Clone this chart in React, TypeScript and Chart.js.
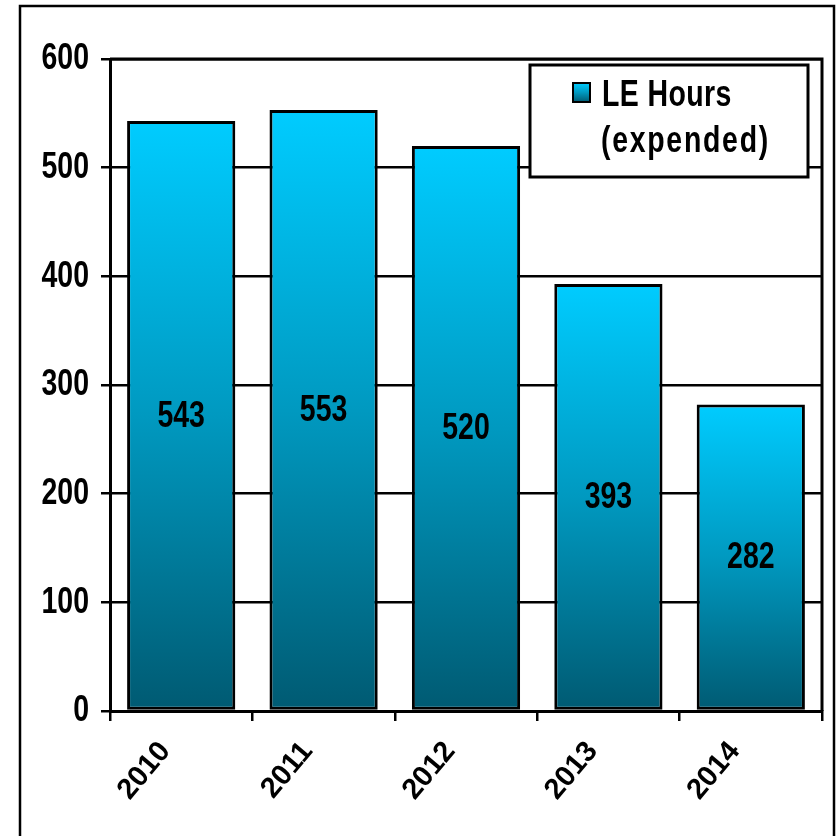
import React, { useEffect, useRef } from 'react';
import { Chart, registerables } from 'chart.js';

Chart.register(...registerables);

const categories = ['2010', '2011', '2012', '2013', '2014'];
const leHours = [543, 553, 520, 393, 282];
const seriesLabel = ['LE Hours', '(expended)'];
const yTicks = [0, 100, 200, 300, 400, 500, 600];

const REG = '"Liberation Sans", Arial, sans-serif';
const BIG_FONT = `bold 37px ${REG}`;
const SQUEEZE = 0.77;

function makeGradient(ctx: CanvasRenderingContext2D, top: number, bottom: number) {
  const g = ctx.createLinearGradient(0, top, 0, bottom);
  g.addColorStop(0, '#00CCFF');
  g.addColorStop(0.5, '#0099C0');
  g.addColorStop(1, '#005A72');
  return g;
}

function narrowText(
  ctx: CanvasRenderingContext2D,
  text: string,
  x: number,
  y: number,
  align: CanvasTextAlign,
  baseline: CanvasTextBaseline,
  spacing = 0
) {
  ctx.save();
  ctx.translate(x, y);
  ctx.scale(SQUEEZE, 1);
  ctx.font = BIG_FONT;
  ctx.fillStyle = '#000';
  ctx.textAlign = align;
  ctx.textBaseline = baseline;
  if (spacing) (ctx as any).letterSpacing = `${spacing}px`;
  ctx.fillText(text, 0, 0);
  ctx.restore();
}

const framePlugin = {
  id: 'frame',
  beforeDraw(chart: any) {
    const { ctx, width, height } = chart;
    ctx.save();
    ctx.fillStyle = '#fff';
    ctx.fillRect(0, 0, width, height);
    ctx.strokeStyle = '#000';
    ctx.lineWidth = 2.5;
    ctx.strokeRect(20, 6, 814, height + 20);
    ctx.restore();
  },
  afterDatasetsDraw(chart: any) {
    const { ctx, chartArea } = chart;
    ctx.save();
    // plot area frame (top + right)
    ctx.strokeStyle = '#000';
    ctx.lineWidth = 3;
    ctx.beginPath();
    ctx.moveTo(chartArea.left, chartArea.top);
    ctx.lineTo(chartArea.right, chartArea.top);
    ctx.lineTo(chartArea.right, chartArea.bottom);
    ctx.stroke();
    ctx.restore();
    // y tick labels
    const ys = chart.scales.y;
    ys.ticks.forEach((t: any) => {
      narrowText(ctx, String(t.value), chartArea.left - 21, ys.getPixelForValue(t.value), 'right', 'middle');
    });
    // data labels
    const meta = chart.getDatasetMeta(0);
    meta.data.forEach((el: any, i: number) => {
      narrowText(ctx, String(leHours[i]), el.x, (el.y + el.base) / 2 + 1, 'center', 'middle');
    });
  },
  afterDraw(chart: any) {
    const { ctx, chartArea } = chart;
    const lw = 278;
    const lh = 112;
    const lx = chartArea.right - 14 - lw;
    const ly = chartArea.top + 6;
    ctx.save();
    ctx.fillStyle = '#fff';
    ctx.fillRect(lx, ly, lw, lh);
    ctx.strokeStyle = '#000';
    ctx.lineWidth = 3;
    ctx.strokeRect(lx, ly, lw, lh);
    // marker
    const mx = lx + 43;
    const my = ly + 18;
    ctx.fillStyle = makeGradient(ctx, my, my + 19);
    ctx.fillRect(mx, my, 17, 19);
    ctx.lineWidth = 2;
    ctx.strokeRect(mx, my, 17, 19);
    ctx.restore();
    narrowText(ctx, seriesLabel[0], lx + 72, ly + 41, 'left', 'alphabetic', 0.5);
    narrowText(ctx, seriesLabel[1], lx + 71, ly + 87, 'left', 'alphabetic', 2.2);
  },
};

export default function App() {
  const ref = useRef<HTMLCanvasElement | null>(null);

  useEffect(() => {
    document.body.style.margin = '0';
    const canvas = ref.current;
    if (!canvas) return;
    const chart = new Chart(canvas, {
      type: 'bar',
      data: {
        labels: categories,
        datasets: [
          {
            label: seriesLabel.join(' '),
            data: leHours,
            backgroundColor: (c: any) => {
              const ch = c.chart;
              if (!ch.chartArea || c.dataIndex == null || !ch.scales.y) return '#00AEDD';
              const y = ch.scales.y;
              return makeGradient(ch.ctx, y.getPixelForValue(c.raw), y.getPixelForValue(0));
            },
            borderColor: '#000',
            borderWidth: 3,
            borderSkipped: false,
            categoryPercentage: 1,
            barPercentage: 0.76,
          },
        ],
      },
      options: {
        responsive: false,
        animation: false,
        layout: { padding: { left: 0, top: 59, right: 14, bottom: 0 } },
        plugins: {
          legend: { display: false },
          tooltip: { enabled: false },
        },
        scales: {
          x: {
            ticks: {
              color: '#000',
              font: { family: REG, size: 29, weight: 'bold' },
              minRotation: 50,
              maxRotation: 50,
              labelOffset: -16,
              padding: 14,
            },
            grid: {
              drawOnChartArea: false,
              color: '#000',
              lineWidth: 2.5,
              tickLength: 10,
              offset: true,
            },
            border: { color: '#000', width: 3 },
            afterFit(s: any) {
              s.height = 125;
            },
          },
          y: {
            min: 0,
            max: 600,
            afterBuildTicks(s: any) {
              s.ticks = yTicks.map((v) => ({ value: v }));
            },
            ticks: { display: false },
            grid: { color: '#000', lineWidth: 2.5, tickLength: 9 },
            border: { color: '#000', width: 3 },
            afterFit(s: any) {
              s.width = 110;
            },
          },
        },
      },
      plugins: [framePlugin],
    } as any);
    return () => chart.destroy();
  }, []);

  return (
    <div style={{ width: 836, height: 836 }}>
      <canvas ref={ref} width={836} height={836} style={{ width: 836, height: 836, display: 'block' }} />
    </div>
  );
}
